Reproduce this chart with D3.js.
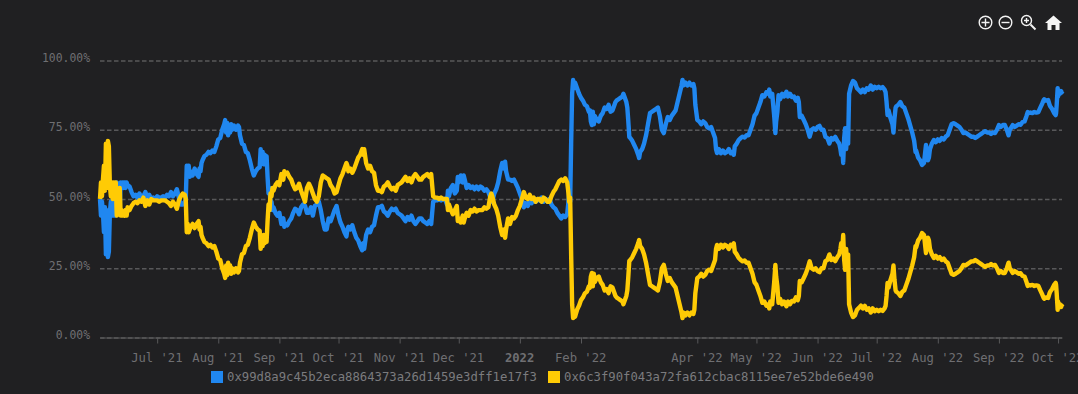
<!DOCTYPE html>
<html><head><meta charset="utf-8">
<script src="https://cdn.jsdelivr.net/npm/d3@7/dist/d3.min.js"></script>
<style>
html,body{margin:0;padding:0;background:#202022;overflow:hidden}
svg{display:block}
text{font-family:"DejaVu Sans Mono","Liberation Mono",monospace}
</style></head><body><div id="chart"></div>
<script>
const seriesNames = ["0x99d8a9c45b2eca8864373a26d1459e3dff1e17f3","0x6c3f90f043a72fa612cbac8115ee7e52bde6e490"];
const seriesColors = ["#2087f0","#ffcb05"];
const startDate = new Date(2021,5,2);
const endDate = new Date(2022,9,3);
const yTicks = [0,25,50,75,100];
const xTickDates = [[2021,6],[2021,7],[2021,8],[2021,9],[2021,10],[2021,11],[2022,0],[2022,1],[2022,3],[2022,4],[2022,5],[2022,6],[2022,7],[2022,8],[2022,9]];
const xTickLabels = ["Jul '21","Aug '21","Sep '21","Oct '21","Nov '21","Dec '21","2022","Feb '22","Apr '22","May '22","Jun '22","Jul '22","Aug '22","Sep '22","Oct '22"];
const days = [
0,.5,1,1.5,2,2.5,3,3.5,4,4.5,
5,5.5,6,6.5,7,7.5,8,8.5,9,9.5,
10,10.5,11,11.5,12,12.5,13,13.5,14,15,
16,17,18,19,20,21,22,23,24,25,
26,27,28,29,30,31,32,33,34,35,
36,37,38,39,40,41,42,43,43.5,44,
44.5,45,45.5,46,47,48,49,50,50.5,51,
51.5,52,53,54,55,56,57,58,59,60,
61,62,63,63.5,64,64.5,65,65.5,66,66.5,
67,68,69,70,70.5,71,72,73,74,75,
76,77,78,79,80,81,81.5,82,82.5,83,
83.5,84,84.5,85,85.5,86,86.5,87,87.5,88,
89,90,91,92,93,93.5,94,95,96,97,
98,99,100,101,102,103,104,105,106,107,
108,109,110,111,112,113,114,115,116,117,
118,119,120,121,122,123,124,125,125.5,126,
127,128,129,130,131,132,133,133.5,134,135,
136,137,138,139,140,141,142,143,144,145,
146,147,148,149,150,151,152,153,154,155,
156,157,158,159,160,161,162,163,164,165,
166,167,168,168.5,169,170,171,172,173,174,
175,176,176.5,177,178,179,180,181,181.5,182,
183,184,184.5,185,186,187,188,189,190,191,
192,193,194,195,196,197,198,198.5,199,200,
201,202,203,204,205,205.5,206,207,208,209,
210,211,212,213,214,215,216,217,218,219,
220,221,222,223,224,225,226,227,228,229,
230,231,232,233,234,235,236,237,237.5,238,
238.5,239,239.5,240,240.5,241,242,243,244,245,
246,247,248,248.5,249,249.5,250,250.5,251,252,
253,254,255,256,257,258,259,260,261,261.5,
262,263,264,265,265.5,266,267,267.5,268,268.5,
269,270,271,272,273,273.5,274,275,276,277,
278,279,280,281,282,283,284,285,286,287,
288,289,290,291,292,293,294,295,295.5,296,
297,298,299,300,301,301.5,302,303,304,305,
306,307,308,309,310,311,312,312.5,313,314,
315,316,317,318,319,320,321,321.5,322,323,
324,325,326,327,328,329,330,331,332,333,
334,335,336,337,338,339,339.5,340,341,342,
342.6,343,343.6,344.2,345,346,347,348.2,349,350,
351,352,353,354,354.5,355,356,357,358,359,
360,361,362,363,364,365,366,367,368,369,
370,371,372,373,374,375,375.6,376,376.5,377,
377.5,378,378.5,379,379.5,380,381,382,383,384,
385,386,387,388,389,390,391,392,393,394,
395,396,397,398,398.5,399,399.5,400,401,402,
402.5,403,403.6,404,405,406,407,408,409,410,
411,412,413,413.7,414,415,416,417,418,419,
420,420.5,421,422,423,424,425,426,427,428,
429,430,431,432,433,434,435,436,437,438,
439,440,441,442,443,444,445,446,447,448,
449,450,451,452,453,454,455,456,457,458,
459,460,460.9,461.5,462,463,464,465,466,467,
468,469,470,470.6,471,472,473,474,475,476,
477,478,478.7,479,480,481,481.7,482,483,484,
484.8,485,485.3,485.8,486,486.5,487,487.5,487.8,488.3];
const blueValues = [
50,44,49,45,38,47,30,46,29,31,
45,49,44,50,44,50,44,56,48,55,
47,56,54,56,54,56,54,56,55,54.5,
52.5,51,51.5,50.5,52,50.5,51,52.5,50.5,51.5,
50,50.5,50,51,50.5,50.5,51,50.5,51.5,51,
52.5,51,52,53.5,50.5,48,48,49,50,62,
59,62,58,60,58.5,61,59,58,61,60,
63,64,65.5,66,67,66.5,67.5,67,69,71.5,
72,75,77,78.5,74,77.5,73,76,74,77,
75,76.5,75,76.5,76,73,70,69.5,67,66.5,
64,61,58.5,60,61,61.5,68,63.5,67,62.5,
66,63,65.5,58,52,54,48,49,46,47,
45,44,45,41,43,40,41,40.5,42,43,
45,46.5,46,44.5,47,48,47.5,45,45,47,
44,47.5,48,49,46,42,39,39,43,42,
44,46,47.5,44,41.5,40,38,36.5,39,40,
39,40.5,38,36,35,33,31.5,34,32,37,
39,38,40,40.5,44,47,47,47.5,45.5,45,
44,45.5,46.5,46,46.5,45,44.5,44,43,42,
43.5,42.5,44,42,41,42,43,43,42,41.5,
41,42,41,45,49,49.5,49.5,50,49.5,50,
50,48,53,51,54,55,52,53,58,56,
58.5,56,58.5,57,54,55,54,54.5,53.5,54.5,
53.5,54.5,54,53,53.5,52.5,50.5,49.5,49,52,
53.5,56,60,63,61,63.5,60,57,57,56.5,
57,55.5,54,52,50,47,48.5,47.5,49.5,48.5,
50,49,50,49.5,50.5,49,50,49,50,48,
47,46.5,45,44,43,44,43.5,44.5,48,52,
49,70,88,93,90,92,90,88,86.5,85.5,
84,83.5,81.5,82,78,76.7,81.5,77,80,78.5,
78,80,81,83,82.5,84,81.5,82,84,85,
85.5,86,86.5,87,88,87,85,83,78,72.4,
72,71,69.5,68,66,64.8,67,68,70,73,
77,81,81.5,82,82.5,83,80,75,73.8,77,
79.6,78.5,80,81,82,85,88,91,93,91,
92,91,92,91,91.5,90,84,78.5,78,77,
78,77.4,76,75.5,76,74,72,68,66.6,68,
66.5,67.5,66.5,67,68,66.5,67,66,69,70,
71.3,72,72.5,72.2,73,73,75,77,80,81,
83,85,87.5,87,88.5,88,89.5,87,88,80,
73.8,78,81.4,87.5,86,88,87,88.7,87,88,
86.8,87,85.5,86.5,85,79.6,80,78.5,77,75,
72.5,75,75.5,75,76,76.4,75,75,72.4,72,
70,72,71.5,72.4,71,70,68,66,69,63,
72,75.6,68,74,70,88,91,92.6,92,90,
89.3,88.5,89.5,88.6,90,89.5,91,89.5,90.5,90,
90.5,90,90.4,89.5,88.6,85,80.3,82,79.2,77,
74,79,83,83.5,84,85,83.5,83,81,79,
76.5,74,71,67,67.5,65,64,62.3,63,69.5,
64,65,68,70,71.3,70.5,71.5,71,72,71.5,
72.5,73,75,77,77.4,77,76.5,76,75,73.8,
74,73.5,73,72.5,72.5,72,72.5,73,73.5,74,
74.5,74,74,73.5,74,73.8,75,76.7,76,76.7,
76.7,75,73,75,75.5,76.7,76,76.5,77,76.8,
77.8,78,80,81.4,81,81.2,81,81.4,81.2,81.4,
83,84.5,85.7,86,85.5,85.7,84,83.5,82.5,81,
80.3,81,84,90,87,89,88,89,88.5,89];
const yellowValues = [
50,56,51,57,62,53,70,54,71,69,
55,51,56,50,56,50,56,44,53,45,
54,44,46,44,45,44,46,44,47,46,
47.5,48.5,49,48.5,49.5,49,50.5,47.5,49.5,48,
50,49.5,49.5,49.5,49,49.5,49.5,49.5,49,48.5,
47.5,49,48,46.5,49.5,51,52,51.5,50,38,
41,38,39,40,41,39.5,41,42,39,40,
37,36,34.5,34,33,33.5,32.5,33,31,28.5,
28,25,23,21.5,26,22.5,27,24,26,23,
25,23.5,25,23.5,24,27,30,30.5,33,33.5,
36,39,41.5,40,39,38.5,32,36.5,33,37,
34,37,34.5,42,48,46,52,51,54,53,
55,56,55,59,57,60,59,59.5,58,57,
55,53.5,54,55.5,53,51,49,54,55.5,54,
52,50,49,51,56,58.5,58,57.5,57,55,
54,52,52.5,55,57.5,59,61,63,62,60,
61,59.5,61,63,65,66,68,66,68,63,
61,62,60,59.5,55,53,53,52.5,54.5,55,
56,54.5,53.5,54,53,55,55.5,56,57,58,
56.5,57.5,56,58,59,58,57,57,58,58.5,
59,58,59,55,51,50.5,50.5,50,50.5,50,
50,50,46,48,46,44.5,46,47.5,42,43,
41.5,44,41.5,43,45,44,46,45.5,46.5,45.5,
46,46,46,47,46.5,47,51,52,51,48,
46.5,44,40,37,39,36,39,43,41,43.5,
43,44,46,47.5,50,52.5,50.5,50,51.5,50,
50.5,49,50,50,49,50.5,50,49,49,51,
52.5,53.5,55,56.5,57,56.5,57.5,56,53,49,
50.5,30,12,7,9.5,7.5,10,11.5,13.5,14.5,
16,16.5,18.5,18,22,23.3,18.5,23,20,21.5,
22,20,19,17,17.5,16,18.5,18,16,15,
14.5,14,13.5,13,12,13,15,17,22,27.6,
28,29,30.5,32,34,35.2,33,32,30,27,
23,19,18.5,18,17.5,17,20,25,26.2,23,
20.4,21.5,20,19,18,15,12,9,7,9,
8,9,8,9,8.5,10,16,21.5,22,23,
22,22.6,24,24.5,24,26,28,32,33.4,32,
33.5,32.5,33.5,33,32,33.5,33,34,31,30,
28.7,28,27.5,27.8,27,27,25,23,20,19,
17,15,12.5,13,11.5,12,10.5,13,12,20,
26.2,22,18.6,12.5,14,12,13,11.3,13,12,
13.2,13,14.5,13.5,15,20.4,20,21.5,23,25,
27.5,25,24.5,25,24,23.6,25,25,27.6,28,
30,28,28.5,27.6,29,30,32,34,31,37,
28,24.4,32,26,30,12,9,7.4,8,10,
10.7,11.5,10.5,11.4,10,10.5,9,10.5,9.5,10,
9.5,10,9.6,10.5,11.4,15,19.7,18,20.8,23,
26,21,17,16.5,16,15,16.5,17,19,21,
23.5,26,29,33,32.5,35,36,37.7,37,30.5,
36,35,32,30,28.7,29.5,28.5,29,28,28.5,
27.5,27,25,23,22.6,23,23.5,24,25,26.2,
26,26.5,27,27.5,27.5,28,27.5,27,26.5,26,
25.5,26,26,26.5,26,26.2,25,23.3,24,23.3,
23.3,25,27,25,24.5,23.3,24,23.5,23,23.2,
22.2,22,20,18.6,19,18.8,19,18.6,18.8,18.6,
17,15.5,14.3,14,14.5,14.3,16,16.5,17.5,19,
19.7,19,16,10,13,11,12,11,11.5,11];

const W=1078,H=394;
const svg=d3.select("#chart").append("svg").attr("width",W).attr("height",H);
svg.append("rect").attr("width",W).attr("height",H).attr("fill","#202022");
const x=d3.scaleTime().domain([startDate,endDate]).range([100,1062]);
const y=d3.scaleLinear().domain([0,100]).range([337.5,60.5]);
const dateOf=d=>new Date(startDate.getTime()+d*864e5);

const yAxis=svg.append("g").attr("transform","translate(100,0)")
  .call(d3.axisLeft(y).tickValues(yTicks).tickSize(0).tickPadding(10).tickFormat(v=>v.toFixed(2)+"%"));
yAxis.select(".domain").remove();
yAxis.selectAll("text").attr("fill","#6f6f72").attr("font-size",11.4).attr("dy","0.1em")
  .style("font-family",'"DejaVu Sans Mono",monospace');
yAxis.selectAll(".tick").append("line").attr("x1",0).attr("x2",962)
  .attr("stroke","#58585a").attr("stroke-width",1.5).attr("stroke-dasharray","4.5 2.5");

const tickDates=xTickDates.map(a=>new Date(a[0],a[1],1));
const xAxis=svg.append("g").attr("transform","translate(0,337.5)")
  .call(d3.axisBottom(x).tickValues(tickDates).tickSizeInner(6).tickSizeOuter(0).tickPadding(10)
  .tickFormat((d,i)=>xTickLabels[i]));
xAxis.select(".domain").attr("stroke","#58585a").attr("stroke-width",1);
xAxis.selectAll("line").attr("stroke","#58585a");
xAxis.selectAll("text").attr("fill","#6f6f72").attr("font-size",12.2).attr("dx",-0.8)
  .attr("font-weight",(d,i)=>xTickLabels[i]==="2022"?"bold":"normal")
  .style("font-family",'"DejaVu Sans Mono",monospace');

const line=d3.line().x(p=>x(dateOf(p[0]))).y(p=>y(p[1])).curve(d3.curveLinear);
[blueValues,yellowValues].forEach((vals,i)=>{
  svg.append("path").attr("d",line(days.map((d,k)=>[d,vals[k]])))
    .attr("fill","none").attr("stroke",seriesColors[i]).attr("stroke-width",4.4)
    .attr("stroke-linejoin","round").attr("stroke-linecap","butt");
});

const legendX=[211,548];
seriesNames.forEach((n,i)=>{
  svg.append("rect").attr("x",legendX[i]).attr("y",371).attr("width",12).attr("height",12).attr("fill",seriesColors[i]);
  svg.append("text").attr("x",legendX[i]+16).attr("y",381).attr("fill","#7b7b7e").attr("font-size",12.25).text(n);
});

const tb=svg.append("g").attr("fill","none").attr("stroke","#f2f2f2").attr("stroke-width",1.4);
tb.append("circle").attr("cx",985.5).attr("cy",22.5).attr("r",6.3);
tb.append("path").attr("d","M981.5 22.5h8M985.5 18.5v8");
tb.append("circle").attr("cx",1005.5).attr("cy",22.5).attr("r",6.3);
tb.append("path").attr("d","M1001.5 22.5h8");
tb.append("circle").attr("cx",1026.5).attr("cy",20.5).attr("r",5);
tb.append("path").attr("d","M1024 20.5h5M1026.5 18v5");
tb.append("path").attr("d","M1030.5 24.5l5 5").attr("stroke-width",2);
svg.append("path").attr("d","M1053.5 15.5l8.5 7.5h-2.5v7h-4v-5h-4v5h-4v-7h-2.5z").attr("fill","#f5f5f5");
</script></body></html>
